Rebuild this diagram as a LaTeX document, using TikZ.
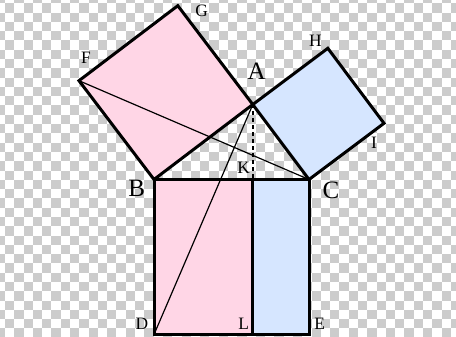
\documentclass[tikz,border=0pt]{standalone}
\usepackage{fontspec}
\setmainfont{Liberation Serif}
\usetikzlibrary{calc}
\definecolor{chkgray}{RGB}{204,204,204}
\definecolor{pinkfill}{RGB}{255,214,230}
\definecolor{bluefill}{RGB}{214,230,255}
\tikzset{
  chk/.style={fill=chkgray},
  edge/.style={draw=black,line width=3pt,line join=miter},
  thinline/.style={draw=black,line width=1.2pt},
  altline/.style={draw=black,line width=2.6pt,dash pattern=on 4pt off 3pt},
  biglabel/.style={inner sep=0pt,font=\fontsize{25}{25}\selectfont},
  smalllabel/.style={inner sep=0pt,font=\fontsize{17.4}{17.4}\selectfont},
}
\begin{document}
\begin{tikzpicture}[x=1pt,y=-1pt]
\useasboundingbox (0,0) rectangle (456,337);
\fill[white] (0,0) rectangle (456,337);
\begin{scope}
\clip (0,0) rectangle (456,337);
\foreach \i in {-1,...,48}{
  \foreach \j in {-1,...,36}{
    \pgfmathtruncatemacro{\p}{mod(\i+\j+100,2)}
    \ifnum\p=0
      \fill[chk] ({5+\i*9.29},{3.3+\j*9.29}) rectangle ++(9.29,9.29);
    \fi
  }
}
\end{scope}
% points
\coordinate (A) at (252.8,104.5);
\coordinate (B) at (154,179.5);
\coordinate (C) at (309,179.5);
\coordinate (F) at (79,80.7);
\coordinate (G) at (177.8,5.7);
\coordinate (H) at (327.8,48.3);
\coordinate (I) at (384,123.3);
\coordinate (D) at (154,334.5);
\coordinate (E) at (309,334.5);
\coordinate (K) at (252.8,179.5);
\coordinate (L) at (252.8,334.5);
% fills
\fill[pinkfill] (B) -- (F) -- (G) -- (A) -- cycle;
\fill[bluefill] (A) -- (H) -- (I) -- (C) -- cycle;
\fill[pinkfill] (B) -- (K) -- (L) -- (D) -- cycle;
\fill[bluefill] (K) -- (C) -- (E) -- (L) -- cycle;
% thin lines
\draw[thinline] (F) -- (C);
\draw[thinline] (A) -- (D);
% outlines
\draw[edge] (B) -- (F) -- (G) -- (A) -- cycle;
\draw[edge] (A) -- (H) -- (I) -- (C) -- cycle;
\draw[edge] (B) -- (C) -- (E) -- (D) -- cycle;
\draw[edge] (K) -- (L);
\draw[altline] (A) -- (K);
% labels
\node[biglabel] (lA) at (256.7,71.3) {A};
\node[biglabel] (lB) at (136.7,188) {B};
\node[biglabel] (lC) at (331,190) {C};
\node[smalllabel] (lF) at (86,58.3) {F};
\node[smalllabel] (lG) at (201.7,11.3) {G};
\node[smalllabel] (lH) at (315.3,40.8) {H};
\node[smalllabel] (lI) at (374,142.5) {I};
\node[smalllabel] (lK) at (243.7,168.3) {K};
\node[smalllabel] (lD) at (142,324.2) {D};
\node[smalllabel] (lL) at (243.8,324) {L};
\node[smalllabel] (lE) at (319.7,324) {E};
\end{tikzpicture}
\end{document}
